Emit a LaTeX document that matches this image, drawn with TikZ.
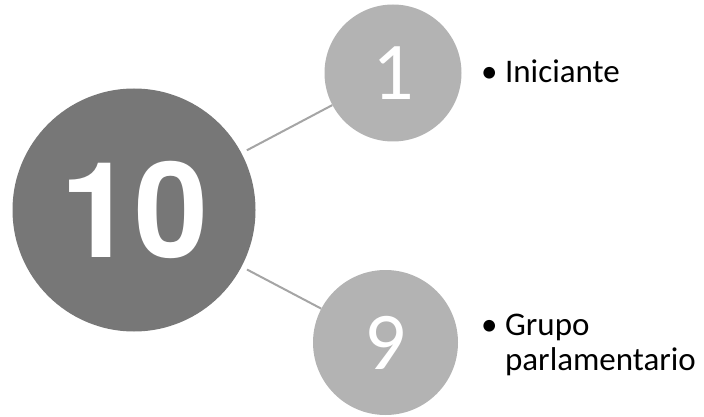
\documentclass[tikz,border=0pt]{standalone}
\usepackage{fontspec}
\setmainfont{Carlito}
\newfontfamily\numfont{texgyreheros-bold.otf}
\usetikzlibrary{positioning}
\definecolor{DarkDisk}{HTML}{777777}
\definecolor{LightDisk}{HTML}{B3B3B3}
\definecolor{LinkGray}{HTML}{A5A5A5}

\begin{document}
\begin{tikzpicture}[
    x=1pt, y=-1pt,
    bigdisk/.style={circle, fill=DarkDisk, text=white, inner sep=0pt,
                    minimum size=243pt},
    smalldisk/.style={circle, fill=LightDisk, text=white, inner sep=0pt,
                      font=\fontsize{82}{82}\selectfont},
    link/.style={LinkGray, line width=2pt},
    item/.style={anchor=base west, inner sep=0pt, align=left,
                 font=\fontsize{33}{35}\selectfont}
]
    \useasboundingbox (0,0) rectangle (704,417);

    % Disks
    \node[bigdisk] (total) at (134,210) {\numfont\fontsize{133}{133}\selectfont 10};
    \node[smalldisk, minimum size=137pt] (one) at (393,73) {1};
    \node[smalldisk, minimum size=145pt] (nine) at (385.5,342.5) {9};

    % Links
    \draw[link, shorten <=6pt] (total) -- (one);
    \draw[link, shorten <=6pt] (total) -- (nine);

    % Labels
    \node[item] (iniciante) at (481,83) {\textbullet\ Iniciante};
    \node[item] (grupo) at (481,370) {\textbullet\ Grupo\\\phantom{\textbullet\ }parlamentario};
\end{tikzpicture}
\end{document}
